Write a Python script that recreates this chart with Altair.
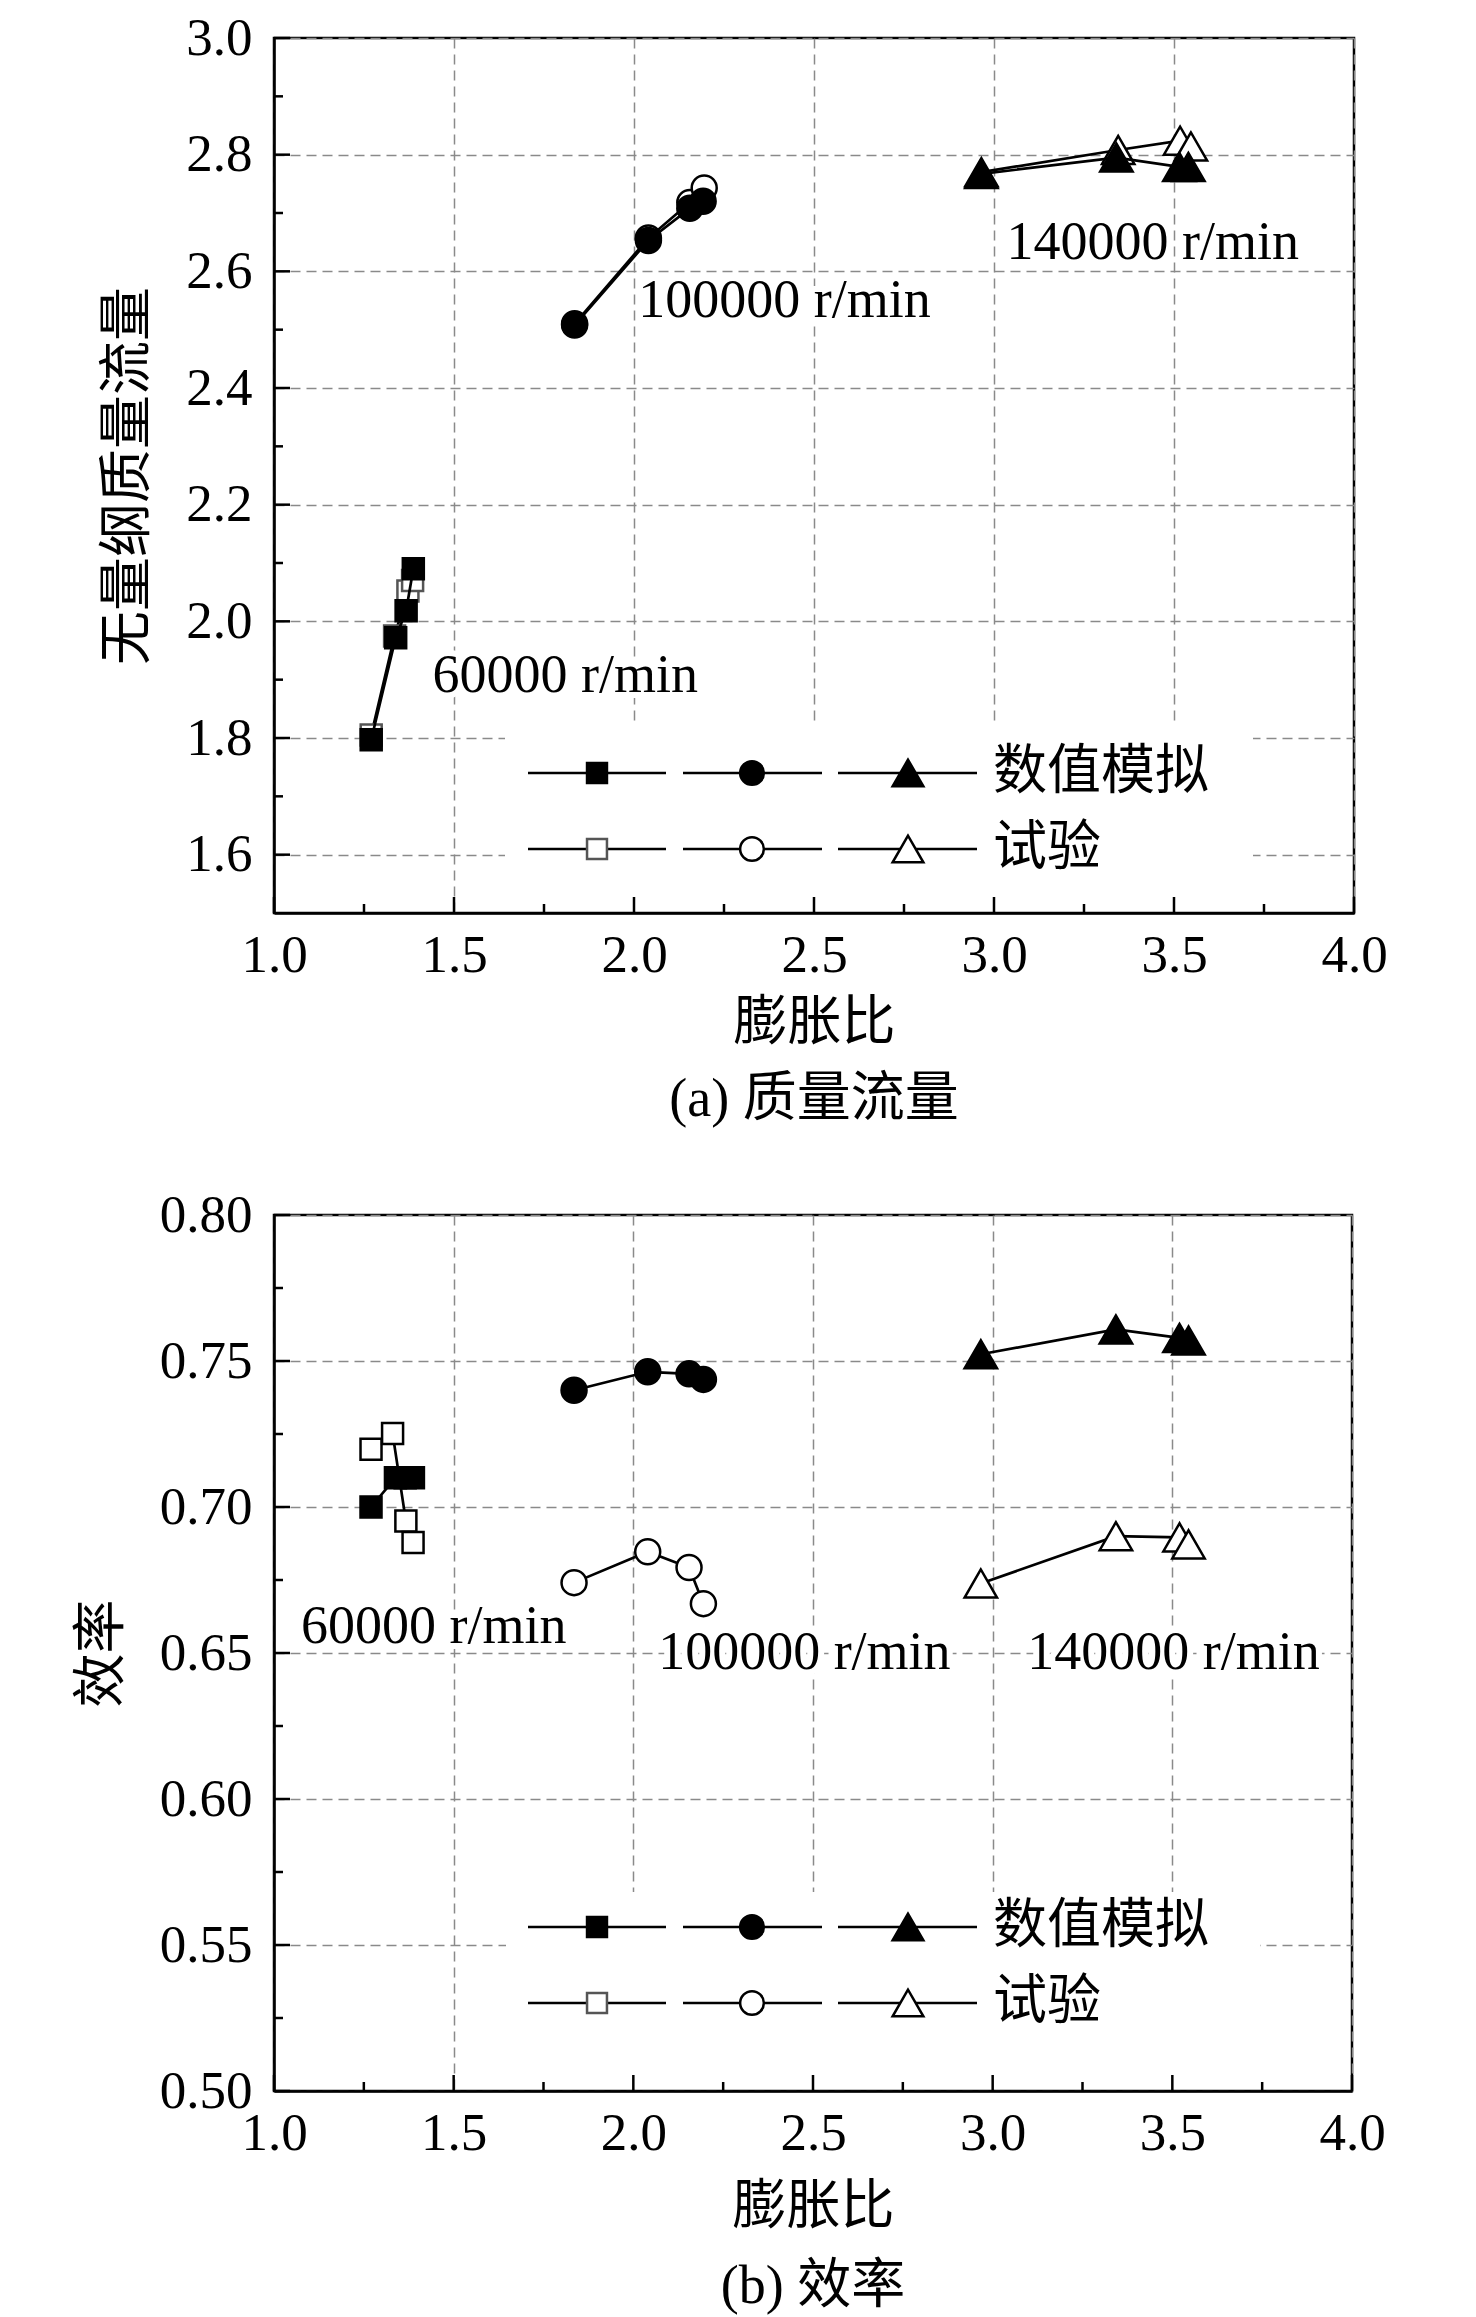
import altair as alt
import pandas as pd

# ---------------- data ----------------
SPEEDS = ["60000", "100000", "140000"]

# (a) mass flow
a_sim_x = {"60000": [1.270, 1.338, 1.367, 1.387],
           "100000": [1.835, 2.040, 2.155, 2.192],
           "140000": [2.965, 3.340, 3.515, 3.540]}
a_sim_y = {"60000": [1.797, 1.972, 2.018, 2.090],
           "100000": [2.508, 2.653, 2.708, 2.720],
           "140000": [2.767, 2.795, 2.779, 2.779]}
a_exp_x = {"60000": [1.270, 1.335, 1.372, 1.385],
           "100000": [1.835, 2.040, 2.155, 2.195],
           "140000": [2.965, 3.345, 3.517, 3.547]}
a_exp_y = {"60000": [1.805, 1.975, 2.052, 2.070],
           "100000": [2.510, 2.657, 2.718, 2.743],
           "140000": [2.770, 2.808, 2.824, 2.814]}

# (b) efficiency
b_sim_x = {"60000": [1.270, 1.338, 1.365, 1.388],
           "100000": [1.835, 2.040, 2.155, 2.195],
           "140000": [2.967, 3.343, 3.520, 3.545]}
b_sim_y = {"60000": [0.700, 0.710, 0.710, 0.710],
           "100000": [0.740, 0.7463, 0.7456, 0.7437],
           "140000": [0.7523, 0.7608, 0.7579, 0.7570]}
b_exp_x = {"60000": [1.270, 1.330, 1.367, 1.387],
           "100000": [1.835, 2.040, 2.155, 2.195],
           "140000": [2.967, 3.343, 3.520, 3.545]}
b_exp_y = {"60000": [0.7198, 0.7252, 0.6952, 0.6878],
           "100000": [0.6741, 0.6847, 0.6793, 0.6669],
           "140000": [0.6738, 0.6900, 0.6896, 0.6872]}

x_major = [1.0, 1.5, 2.0, 2.5, 3.0, 3.5, 4.0]
x_minor = [1.25, 1.75, 2.25, 2.75, 3.25, 3.75]
a_y_major = [1.6, 1.8, 2.0, 2.2, 2.4, 2.6, 2.8, 3.0]
a_y_minor = [1.7, 1.9, 2.1, 2.3, 2.5, 2.7, 2.9]
b_y_major = [0.50, 0.55, 0.60, 0.65, 0.70, 0.75, 0.80]
b_y_minor = [0.525, 0.575, 0.625, 0.675, 0.725, 0.775]

a_labels = ["60000 r/min", "100000 r/min", "140000 r/min"]
a_label_x = [1.44, 2.012, 3.035]
a_label_y = [1.907, 2.549, 2.649]
b_labels = ["60000 r/min", "100000 r/min", "140000 r/min"]
b_label_x = [1.075, 2.069, 3.096]
b_label_y = [0.659, 0.650, 0.650]

legend_texts = ["数值模拟", "试验"]

FONT = "Liberation Serif, Noto Sans CJK SC"
LAB = 53
TIT = 54
SHAPES = {"60000": "square", "100000": "circle", "140000": "triangle-up"}
SIZES = {"60000": 441, "100000": 625, "140000": 1050}


def panel(sim_x, sim_y, exp_x, exp_y, ydom, ymaj, ymin, yfmt, ytitle,
          ytpad, caption, lab, lx, ly, W, H, leg_rows, box, sq_stroke,
          xtpad, capoff):
    X = alt.X("x:Q", scale=alt.Scale(domain=[1.0, 4.0], nice=False, zero=False),
              axis=alt.Axis(values=x_major, format=".1f", title="膨胀比",
                            labelPadding=16, titlePadding=xtpad, ticks=False,
                            tickSize=0))
    Y = alt.Y("y:Q", scale=alt.Scale(domain=ydom, nice=False, zero=False),
              axis=alt.Axis(values=ymaj, format=yfmt, title=ytitle,
                            labelPadding=22, titlePadding=ytpad, ticks=False,
                            tickSize=0))
    layers = []
    # legend white box
    layers.append(alt.Chart(pd.DataFrame({"a": [0]})).mark_rect(
        fill="white", stroke=None).encode(
        x=alt.value(box[0]), x2=alt.value(box[1]),
        y=alt.value(box[2]), y2=alt.value(H - 2)))
    # ticks (inward)
    for vals, ln in ((x_major, 16), (x_minor, 9)):
        layers.append(alt.Chart(pd.DataFrame({"x": vals})).mark_rule(
            color="black", strokeWidth=2.5).encode(
            x=X, y=alt.value(H), y2=alt.value(H - ln)))
    for vals, ln in ((ymaj, 16), (ymin, 9)):
        layers.append(alt.Chart(pd.DataFrame({"y": vals})).mark_rule(
            color="black", strokeWidth=2.5).encode(
            y=Y, x=alt.value(0), x2=alt.value(ln)))
    # annotations with white halo
    tdf = pd.DataFrame({"x": lx, "y": ly, "t": lab})
    layers.append(alt.Chart(tdf).mark_text(
        align="left", baseline="middle", font=FONT, fontSize=TIT,
        stroke="white", strokeWidth=12, fill="white").encode(x=X, y=Y, text="t:N"))
    layers.append(alt.Chart(tdf).mark_text(
        align="left", baseline="middle", font=FONT, fontSize=TIT,
        color="black").encode(x=X, y=Y, text="t:N"))
    # data: experiment first, then simulation on top
    for kind, xs, ys in (("exp", exp_x, exp_y), ("sim", sim_x, sim_y)):
        for sp in SPEEDS:
            df = pd.DataFrame({"x": xs[sp], "y": ys[sp]})
            layers.append(alt.Chart(df).mark_line(
                color="black", strokeWidth=2.7).encode(x=X, y=Y))
            fill = "black" if kind == "sim" else "white"
            stroke = "black"
            if kind == "exp" and sp == "60000":
                stroke = sq_stroke
            layers.append(alt.Chart(df).mark_point(
                shape=SHAPES[sp], size=SIZES[sp], filled=True, fill=fill,
                stroke=stroke, strokeWidth=2.5, opacity=1).encode(x=X, y=Y))
    # legend
    one = pd.DataFrame({"a": [0]})
    seg = [(254, 392, 323), (409, 548, 478), (564, 703, 634)]
    for r, (kind, ry) in enumerate(zip(("sim", "exp"), leg_rows)):
        for i, sp in enumerate(SPEEDS):
            s0, s1, m = seg[i]
            layers.append(alt.Chart(one).mark_rule(
                color="black", strokeWidth=2.7).encode(
                x=alt.value(s0), x2=alt.value(s1), y=alt.value(ry)))
            fill = "black" if kind == "sim" else "white"
            stroke = "black" if not (kind == "exp" and sp == "60000") else "#555555"
            layers.append(alt.Chart(one).mark_point(
                shape=SHAPES[sp], size=SIZES[sp] * 0.9, filled=True, fill=fill,
                stroke=stroke, strokeWidth=2.5, opacity=1).encode(
                x=alt.value(m), y=alt.value(ry)))
        layers.append(alt.Chart(one).mark_text(
            text=legend_texts[r], align="left", baseline="middle", font=FONT,
            fontSize=TIT, color="black").encode(
            x=alt.value(719), y=alt.value(ry)))
    return alt.layer(*layers).properties(
        width=W, height=H,
        title=alt.TitleParams(caption, orient="bottom", anchor="middle",
                              frame="group", font=FONT, fontSize=TIT,
                              fontWeight="normal", offset=capoff, color="black"))


top = panel(a_sim_x, a_sim_y, a_exp_x, a_exp_y, [1.5, 3.0], a_y_major,
            a_y_minor, ".1f", "无量纲质量流量", 30, "(a) 质量流量",
            a_labels, a_label_x, a_label_y, 1080, 875, [735, 811],
            (231, 979, 688), "#555555", 14, 23)
bottom = panel(b_sim_x, b_sim_y, b_exp_x, b_exp_y, [0.5, 0.8], b_y_major,
               b_y_minor, ".2f", "效率", 30, "(b) 效率",
               b_labels, b_label_x, b_label_y, 1078, 876, [712, 788],
               (232, 986, 677), "black", 20, 26)

chart = alt.vconcat(top, bottom, spacing=58).properties(
    padding={"left": 66, "top": 2, "right": 5, "bottom": 5}
).configure_view(stroke="black", strokeWidth=2.5).configure_axis(
    domainColor="black", domainWidth=2.5, gridColor="#8a8a8a",
    gridDash=[10, 6], gridWidth=1.5, labelFont=FONT, labelFontSize=LAB,
    labelColor="black", titleFont=FONT, titleFontSize=TIT,
    titleFontWeight="normal", titleColor="black", labelFlush=False,
    labelOverlap=False
)

chart.save("out.html", embed_options={"renderer": "svg", "actions": False})
